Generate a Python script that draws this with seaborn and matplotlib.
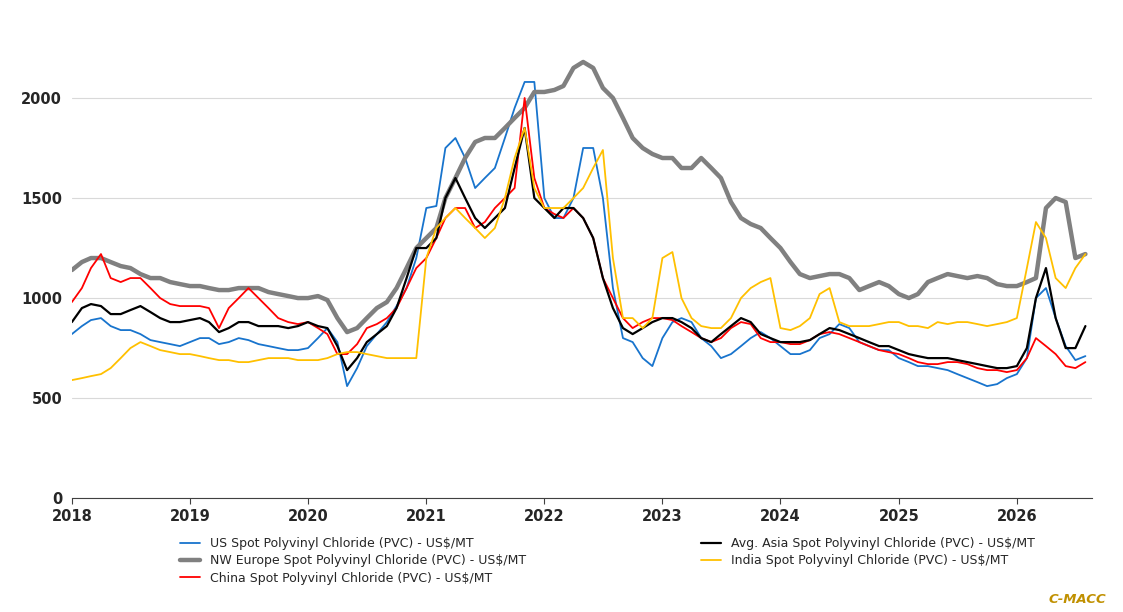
import numpy as np
import pandas as pd
import seaborn as sns
import matplotlib.pyplot as plt

dates = pd.date_range("2018-01-01", periods=104, freq="MS")

us = [820, 860, 890, 900, 860, 840, 840, 820, 790, 780, 770, 760,
      780, 800, 800, 770, 780, 800, 790, 770, 760, 750, 740, 740,
      750, 800, 850, 780, 560, 650, 760, 820, 880, 960, 1050, 1200,
      1450, 1460, 1750, 1800, 1700, 1550, 1600, 1650, 1800, 1950, 2080, 2080,
      1500, 1400, 1400, 1500, 1750, 1750, 1500, 1050, 800, 780, 700, 660,
      800, 880, 900, 880, 800, 760, 700, 720, 760, 800, 830, 800,
      760, 720, 720, 740, 800, 820, 870, 850, 780, 760, 740, 740,
      700, 680, 660, 660, 650, 640, 620, 600, 580, 560, 570, 600,
      620, 700, 1000, 1050, 900, 760, 690, 710]
nwe = [1140, 1180, 1200, 1200, 1180, 1160, 1150, 1120, 1100, 1100, 1080, 1070,
       1060, 1060, 1050, 1040, 1040, 1050, 1050, 1050, 1030, 1020, 1010, 1000,
       1000, 1010, 990, 900, 830, 850, 900, 950, 980, 1050, 1150, 1250,
       1300, 1350, 1500, 1600, 1700, 1780, 1800, 1800, 1850, 1900, 1950, 2030,
       2030, 2040, 2060, 2150, 2180, 2150, 2050, 2000, 1900, 1800, 1750, 1720,
       1700, 1700, 1650, 1650, 1700, 1650, 1600, 1480, 1400, 1370, 1350, 1300,
       1250, 1180, 1120, 1100, 1110, 1120, 1120, 1100, 1040, 1060, 1080, 1060,
       1020, 1000, 1020, 1080, 1100, 1120, 1110, 1100, 1110, 1100, 1070, 1060,
       1060, 1080, 1100, 1450, 1500, 1480, 1200, 1220]
asia = [880, 950, 970, 960, 920, 920, 940, 960, 930, 900, 880, 880,
        890, 900, 880, 830, 850, 880, 880, 860, 860, 860, 850, 860,
        880, 860, 850, 760, 640, 700, 780, 820, 860, 950, 1100, 1250,
        1250, 1300, 1500, 1600, 1500, 1400, 1350, 1400, 1450, 1650, 1850, 1500,
        1450, 1400, 1450, 1450, 1400, 1300, 1100, 950, 850, 820, 850, 880,
        900, 900, 880, 850, 800, 780, 820, 860, 900, 880, 820, 800,
        780, 780, 780, 790, 820, 850, 840, 820, 800, 780, 760, 760,
        740, 720, 710, 700, 700, 700, 690, 680, 670, 660, 650, 650,
        660, 750, 1000, 1150, 900, 750, 750, 860]
india = [590, 600, 610, 620, 650, 700, 750, 780, 760, 740, 730, 720,
         720, 710, 700, 690, 690, 680, 680, 690, 700, 700, 700, 690,
         690, 690, 700, 720, 730, 730, 720, 710, 700, 700, 700, 700,
         1200, 1350, 1400, 1450, 1400, 1350, 1300, 1350, 1500, 1700, 1850, 1550,
         1450, 1450, 1450, 1500, 1550, 1650, 1740, 1200, 900, 900, 850, 900,
         1200, 1230, 1000, 900, 860, 850, 850, 900, 1000, 1050, 1080, 1100,
         850, 840, 860, 900, 1020, 1050, 880, 860, 860, 860, 870, 880,
         880, 860, 860, 850, 880, 870, 880, 880, 870, 860, 870, 880,
         900, 1150, 1380, 1300, 1100, 1050, 1150, 1220]
china = [980, 1050, 1150, 1220, 1100, 1080, 1100, 1100, 1050, 1000, 970, 960,
         960, 960, 950, 850, 950, 1000, 1050, 1000, 950, 900, 880, 870,
         880, 850, 820, 720, 720, 770, 850, 870, 900, 950, 1050, 1150,
         1200, 1300, 1400, 1450, 1450, 1350, 1380, 1450, 1500, 1550, 2000, 1600,
         1450, 1420, 1400, 1450, 1400, 1300, 1100, 1000, 900, 850, 880, 900,
         900, 890, 860, 830, 800, 780, 800, 850, 880, 870, 800, 780,
         780, 770, 770, 790, 820, 830, 820, 800, 780, 760, 740, 730,
         720, 700, 680, 670, 670, 680, 680, 670, 650, 640, 640, 630,
         640, 700, 800, 760, 720, 660, 650, 680]

series = [
    ("US Spot Polyvinyl Chloride (PVC) - US$/MT", us, "#1874CD", 1.3),
    ("NW Europe Spot Polyvinyl Chloride (PVC) - US$/MT", nwe, "#808080", 3.2),
    ("China Spot Polyvinyl Chloride (PVC) - US$/MT", china, "#FF0000", 1.3),
    ("Avg. Asia Spot Polyvinyl Chloride (PVC) - US$/MT", asia, "#000000", 1.6),
    ("India Spot Polyvinyl Chloride (PVC) - US$/MT", india, "#FFC000", 1.3),
]

sns.set_style("white")
fig, ax = plt.subplots(figsize=(11.23, 6.12), dpi=100)
fig.subplots_adjust(left=0.064, right=0.972, top=0.938, bottom=0.186)

for name, vals, col, lw in series:
    sns.lineplot(x=dates, y=vals, ax=ax, color=col, linewidth=lw, label=name)

ax.set_ylim(0, 2300)
ax.set_yticks([0, 500, 1000, 1500, 2000])
ax.set_xlim(pd.Timestamp("2018-01-01"), pd.Timestamp("2026-08-20"))
ax.set_xticks([pd.Timestamp(f"{y}-01-01") for y in range(2018, 2027)])
ax.set_xticklabels([str(y) for y in range(2018, 2027)])
ax.yaxis.grid(True, color="#D9D9D9", linewidth=0.8)
ax.set_axisbelow(True)
for s in ["top", "right", "left"]:
    ax.spines[s].set_visible(False)
ax.spines["bottom"].set_color("#404040")
ax.tick_params(axis="x", bottom=True, length=4, color="#404040")
ax.tick_params(axis="y", left=False)
for t in ax.get_xticklabels() + ax.get_yticklabels():
    t.set_fontweight("bold")
    t.set_fontsize(10.5)
ax.set_xlabel("")
ax.set_ylabel("")

ax.legend(loc="upper left", bbox_to_anchor=(0.095, -0.06), ncol=2, frameon=False,
          fontsize=9, columnspacing=14, handlelength=1.6, labelspacing=0.35)
fig.text(0.985, 0.015, "C-MACC", color="#C09000", fontsize=9.5,
         fontweight="bold", style="italic", ha="right")

plt.savefig("out.png")
